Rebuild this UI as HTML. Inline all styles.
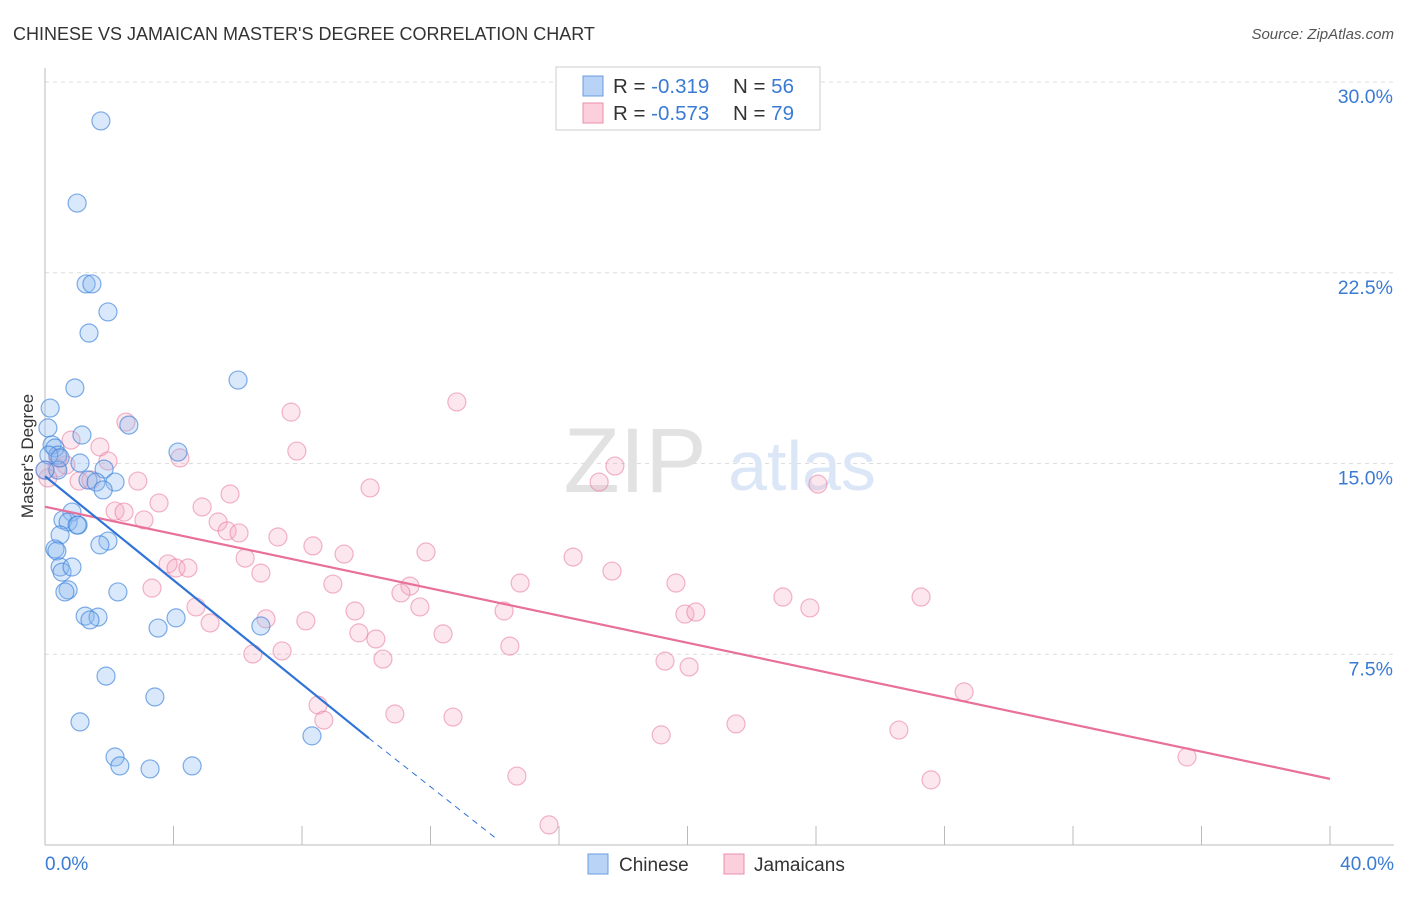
<!DOCTYPE html>
<html><head><meta charset="utf-8"><style>
body{margin:0;background:#fff;font-family:"Liberation Sans",sans-serif}
svg text{font-family:"Liberation Sans",sans-serif}
</style></head><body>
<svg width="1406" height="892">
<text x="13" y="40" font-size="18" fill="#333">CHINESE VS JAMAICAN MASTER'S DEGREE CORRELATION CHART</text>
<text x="1394" y="39" font-size="15" fill="#555" font-style="italic" text-anchor="end">Source: ZipAtlas.com</text>
<g id="grid"></g>
<text x="635" y="492" font-size="92" fill="#e2e2e2" font-family="Liberation Serif" text-anchor="middle">ZIP</text>
<text x="802" y="490" font-size="70" fill="#dbe7f7" text-anchor="middle">atlas</text>
<line x1="45" y1="68" x2="45" y2="845" stroke="#bbb"/>
<line x1="45" y1="845" x2="1394" y2="845" stroke="#bbb"/>
<text x="33" y="456" font-size="17" fill="#333" text-anchor="middle" transform="rotate(-90 33 456)">Master's Degree</text>
<text x="45" y="870" font-size="19" fill="#3a7bd5">0.0%</text>
<text x="1394" y="870" font-size="19" fill="#3a7bd5" text-anchor="end">40.0%</text>
<g id="pts"></g>
<g id="lines"></g>
<rect x="556" y="67" width="264" height="63" fill="#fff" stroke="#ccc"/>
<rect x="583" y="76" width="20" height="20" fill="#b8d3f5" stroke="#6a9be0"/>
<rect x="583" y="103" width="20" height="20" fill="#fbd0dc" stroke="#eb8fab"/>
<text x="613" y="93" font-size="20.5" fill="#333">R = <tspan fill="#3a7bd5">-0.319</tspan><tspan x="733">N = </tspan><tspan fill="#3a7bd5">56</tspan></text>
<text x="613" y="120" font-size="20.5" fill="#333">R = <tspan fill="#3a7bd5">-0.573</tspan><tspan x="733">N = </tspan><tspan fill="#3a7bd5">79</tspan></text>
<rect x="588" y="854" width="20" height="20" fill="#b8d3f5" stroke="#6a9be0"/>
<text x="619" y="871" font-size="19" fill="#333">Chinese</text>
<rect x="724" y="854" width="20" height="20" fill="#fbd0dc" stroke="#eb8fab"/>
<text x="754" y="871" font-size="19" fill="#333">Jamaicans</text>
</svg>
<script>
const yTicks=[7.5,15,22.5,30];
const xTicks=[0,4,8,12,16,20,24,28,32,36,40];
const bluePx=[[101,121],[77,203],[86,284],[92,284],[108,312],[89,333],[238,380],[75,388],[50,408],[48,428],[82,435],[129,425],[52,445],[55,448],[58,455],[49,455],[178,452],[80,463],[104,469],[58,470],[88,480],[96,482],[115,482],[103,490],[72,512],[63,520],[68,522],[78,525],[60,535],[108,541],[100,545],[55,549],[57,551],[60,567],[62,572],[72,567],[68,590],[65,592],[118,592],[85,616],[98,617],[90,620],[176,618],[158,628],[261,626],[106,676],[155,697],[80,722],[312,736],[115,757],[120,766],[150,769],[192,766],[77,525],[45,470],[60,458]];
const pinkPx=[[126,422],[71,440],[100,447],[66,465],[57,468],[108,461],[48,478],[138,481],[79,481],[91,480],[180,458],[291,412],[297,451],[457,402],[370,488],[615,466],[599,482],[818,484],[230,494],[159,503],[202,507],[115,511],[124,512],[144,520],[218,522],[227,531],[239,533],[278,537],[313,546],[344,554],[426,552],[573,557],[245,558],[168,564],[176,568],[188,568],[261,573],[612,571],[333,584],[520,583],[676,583],[410,586],[401,593],[783,597],[921,597],[152,588],[196,607],[355,611],[420,607],[504,611],[810,608],[685,614],[696,612],[266,619],[210,623],[306,621],[359,633],[376,639],[443,634],[510,646],[253,654],[282,651],[383,659],[665,661],[689,667],[964,692],[318,705],[324,720],[395,714],[453,717],[736,724],[661,735],[899,730],[1187,757],[517,776],[931,780],[549,825],[58,458],[45,470]];
const blueX=bluePx.map(p=>+((p[0]-45)/1285*40).toFixed(2));
const blueY=bluePx.map(p=>+((845-p[1])/763*30).toFixed(2));
const pinkX=pinkPx.map(p=>+((p[0]-45)/1285*40).toFixed(2));
const pinkY=pinkPx.map(p=>+((845-p[1])/763*30).toFixed(2));
const blueTrend=[[0,14.5],[10.08,4.2],[14.1,0.2]];
const pinkTrend=[[0,13.3],[40,2.6]];
const X=v=>45+v/40*1285, Y=v=>845-v/30*763;
const NS="http://www.w3.org/2000/svg";
const grid=document.getElementById('grid');
yTicks.forEach(t=>{
 const l=document.createElementNS(NS,'line');
 l.setAttribute('x1',45);l.setAttribute('x2',1394);l.setAttribute('y1',Y(t));l.setAttribute('y2',Y(t));
 l.setAttribute('stroke','#ddd');l.setAttribute('stroke-dasharray','4,4');
 
 
 grid.appendChild(l);
 const tx=document.createElementNS(NS,'text');
 tx.setAttribute('x',1393);tx.setAttribute('y',Y(t)+21);tx.setAttribute('text-anchor','end');
 tx.setAttribute('font-size','19.5');tx.setAttribute('fill','#3a7bd5');tx.textContent=t.toFixed(1)+'%';
 
 
 grid.appendChild(tx);
});
xTicks.forEach(t=>{
 const l=document.createElementNS(NS,'line');
 l.setAttribute('x1',X(t));l.setAttribute('x2',X(t));l.setAttribute('y1',826);l.setAttribute('y2',845);
 l.setAttribute('stroke','#bbb');
 
 
 grid.appendChild(l);
});
const pts=document.getElementById('pts');
function dots(xs,ys,fill,stroke,name){
 xs.forEach((x,i)=>{
  const c=document.createElementNS(NS,'circle');
  c.setAttribute('cx',X(x));c.setAttribute('cy',Y(ys[i]));c.setAttribute('r',9);
  c.setAttribute('fill',fill);c.setAttribute('stroke',stroke);c.setAttribute('stroke-width','1.2');
  
  
  pts.appendChild(c);
 });
}
dots(pinkX,pinkY,'rgba(246,170,195,0.28)','rgba(232,120,155,0.55)','jamaican-point');
dots(blueX,blueY,'rgba(140,185,240,0.33)','rgba(60,130,220,0.65)','chinese-point');
const lines=document.getElementById('lines');
function ln(a,b,col,dash,name){
 const l=document.createElementNS(NS,'line');
 l.setAttribute('x1',X(a[0]));l.setAttribute('y1',Y(a[1]));l.setAttribute('x2',X(b[0]));l.setAttribute('y2',Y(b[1]));
 l.setAttribute('stroke',col);l.setAttribute('stroke-width',dash?1:2.2);
 if(dash)l.setAttribute('stroke-dasharray','6,5');
 
 
 lines.appendChild(l);
}
ln(pinkTrend[0],pinkTrend[1],'#e8709a',false,'jamaican-trendline');
ln(blueTrend[0],blueTrend[1],'#2f74d6',false,'chinese-trendline');
ln(blueTrend[1],blueTrend[2],'#2f74d6',true,'chinese-trendline-extension');
</script>
</body></html>
